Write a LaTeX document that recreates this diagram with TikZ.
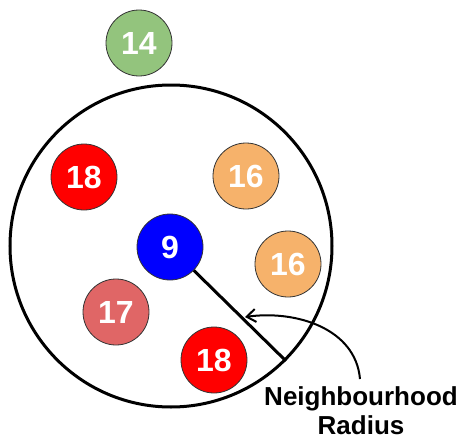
\documentclass[tikz,border=0pt]{standalone}
\usepackage{fontspec}
\setmainfont{Liberation Sans}
\usetikzlibrary{arrows.meta}
\definecolor{cgreen}{HTML}{93C47D}
\definecolor{cred}{HTML}{FF0000}
\definecolor{corange}{HTML}{F6B26B}
\definecolor{cblue}{HTML}{0000FF}
\definecolor{crose}{HTML}{E06666}
\begin{document}
\begin{tikzpicture}[x=1pt,y=-1pt,
  point/.style={circle,draw=black!80,line width=0.8pt,minimum size=66pt,inner sep=0pt,
    text=white,font=\fontsize{32}{32}\selectfont\bfseries},
  bigring/.style={draw=black,line width=3pt},
  radiusline/.style={draw=black,line width=3pt},
  pointer/.style={draw=black,line width=2pt,-{Straight Barb[length=9pt,width=13pt,line width=2pt]}},
  caption/.style={align=center,font=\fontsize{26}{29}\selectfont\bfseries,inner sep=0pt}]
  \useasboundingbox (0,0) rectangle (461,439);

  % neighbourhood boundary around the query point
  \node[circle,bigring,minimum size=322pt,inner sep=0pt] (ring) at (171,246) {};

  % data points
  \node[point,fill=cgreen]  (p14)  at (139,43)  {14};
  \node[point,fill=cred]    (p18a) at (84,177)  {18};
  \node[point,fill=corange] (p16a) at (246,176) {16};
  \node[point,fill=cblue]   (p9)   at (170,247) {9};
  \node[point,fill=corange] (p16b) at (288,264) {16};
  \node[point,fill=crose]   (p17)  at (116,312) {17};
  \node[point,fill=cred]    (p18b) at (214,360) {18};

  % radius from the query point to the boundary
  \coordinate (rim) at (ring.-45);
  \draw[radiusline] (p9) -- (rim);

  % caption and its pointer
  \node[caption] (lbl) at (361,411) {Neighbourhood\\Radius};
  \coordinate (tip) at (245,317);
  \coordinate (start) at (360,379);
  \draw[pointer] (start) to[out=95,in=8] (tip);
\end{tikzpicture}
\end{document}
